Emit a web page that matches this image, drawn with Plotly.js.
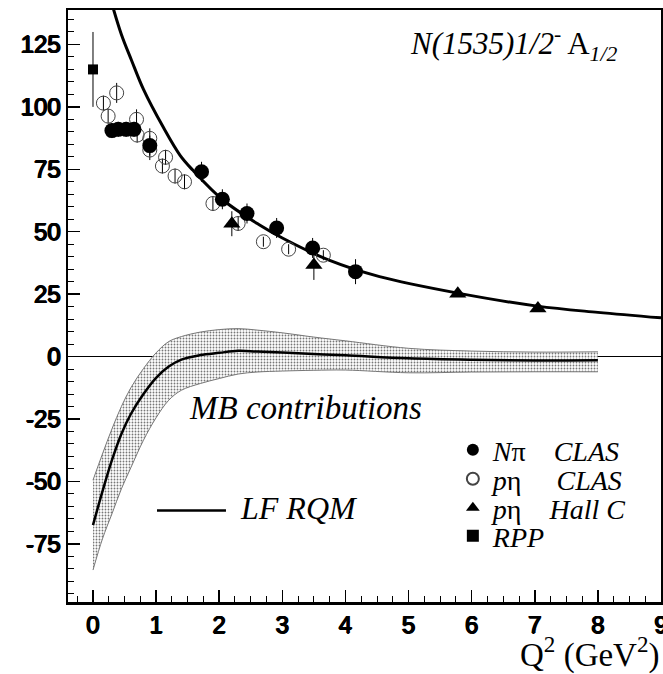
<!DOCTYPE html>
<html>
<head>
<meta charset="utf-8">
<script src="https://cdn.plot.ly/plotly-3.0.1.min.js"></script>
<style>html,body{margin:0;padding:0;background:#fff;}#chart{width:663px;height:674px;}</style>
</head>
<body>
<div id="chart"></div>
<script>
// N pi CLAS (filled circles)
const nPiQ2 = [0.3, 0.4, 0.525, 0.65, 0.9, 1.72, 2.05, 2.44, 2.91, 3.48, 4.16];
const nPiA = [90.5, 91, 91, 91, 84.5, 74, 63, 57.3, 51.5, 43.5, 34];
const nPiErr = [3, 3, 3, 3, 4, 4, 4, 4, 4, 4, 5];
// p eta CLAS (open circles)
const etaQ2 = [0.165, 0.24, 0.375, 0.69, 0.7, 0.9, 0.9, 1.1, 1.15, 1.3, 1.45, 1.9, 2.3, 2.7, 3.1, 3.65];
const etaA = [101.5, 96.3, 105.6, 95, 88.7, 87.4, 82.7, 76.3, 79.8, 72.3, 70, 61.3, 53.3, 46, 43, 40.6];
const etaErr = [3, 3, 4, 4, 3, 4, 4, 3, 3, 3, 3, 3, 3, 2, 2, 2];
// p eta Hall C (triangles)
const hallQ2 = [2.2, 3.5, 5.78, 7.05];
const hallA = [53.2, 36.7, 25.2, 19.2];
const hallErr = [5, 6, 1, 1];
// RPP (square)
const rppQ2 = [0];
const rppA = [115];
const rppErr = [15];
// LF RQM curve
const lfQ2 = [0.28, 0.45, 0.61, 0.8, 1.11, 1.38, 1.58, 2.06, 2.64, 3.0, 3.75, 4.54, 5.78, 7.04, 8.0, 9.0];
const lfA = [143, 129, 118.7, 107, 92, 80.6, 74.7, 62.7, 52.7, 47.5, 38.5, 32, 25.4, 20.2, 17.7, 15.5];
// MB contributions band
const mbQ2 = [0, 0.15, 0.3, 0.45, 0.6, 0.8, 1.0, 1.2, 1.4, 1.7, 2.0, 2.3, 2.6, 3.0, 3.5, 4.0, 5.0, 6.0, 7.0, 8.0];
const mbCenter = [-67.5, -54, -41.5, -31, -23, -15, -8.5, -4, -1.2, 0.6, 1.5, 2.3, 2.0, 1.6, 1.0, 0.5, -0.7, -1.3, -1.6, -1.5];
const mbUpper = [-49.5, -39, -29, -20, -12.5, -4.8, 1.5, 6, 8, 9.8, 10.8, 11.2, 10.6, 9.5, 7.8, 6.3, 3.3, 2.2, 1.8, 1.9];
const mbLower = [-85.5, -73, -63, -53, -44.5, -33.5, -24.5, -17.5, -13.5, -10.8, -8.8, -7, -6.2, -5.8, -5.5, -5.4, -6.5, -6.2, -6.1, -6.1];
// tick labels
const xTicks = [0, 1, 2, 3, 4, 5, 6, 7, 8, 9];
const yTicks = [-75, -50, -25, 0, 25, 50, 75, 100, 125];

const serif = 'Liberation Serif, Times New Roman, serif';
const errStyle = (arr) => ({type: 'data', array: arr, visible: true, color: 'black', thickness: 1, width: 0});

const traces = [
  {x: mbQ2, y: mbUpper, mode: 'lines', line: {color: '#777', width: 1, shape: 'spline'}, showlegend: false, hoverinfo: 'skip'},
  {x: mbQ2, y: mbLower, mode: 'lines', line: {color: '#777', width: 1, shape: 'spline'}, fill: 'tonexty',
   fillcolor: 'rgba(255,255,255,0)',
   fillpattern: {shape: '.', fgcolor: '#777', bgcolor: 'white', size: 3, solidity: 0.3},
   showlegend: false, hoverinfo: 'skip'},
  {x: mbQ2, y: mbCenter, mode: 'lines', line: {color: 'black', width: 2.5, shape: 'spline'}, showlegend: false},
  {x: lfQ2, y: lfA, mode: 'lines', line: {color: 'black', width: 3, shape: 'spline'}, showlegend: false},
  {x: etaQ2, y: etaA, mode: 'markers', name: '<i>p</i>η     <i>CLAS</i>', legend: 'legend2',
   marker: {symbol: 'circle-open', size: 14, color: '#444', line: {width: 1, color: '#444'}},
   error_y: errStyle(etaErr)},
  {x: nPiQ2, y: nPiA, mode: 'markers', name: '<i>N</i>π    <i>CLAS</i>', legend: 'legend',
   marker: {symbol: 'circle', size: 15, color: 'black'}, error_y: errStyle(nPiErr)},
  {x: hallQ2, y: hallA, mode: 'markers', name: '<i>p</i>η    <i>Hall C</i>', legend: 'legend3',
   marker: {symbol: 'triangle-up', size: 15, color: 'black'}, error_y: errStyle(hallErr)},
  {x: rppQ2, y: rppA, mode: 'markers', name: '<i>RPP</i>', legend: 'legend4',
   marker: {symbol: 'square', size: 10, color: 'black'}, error_y: errStyle(rppErr)}
];

const boldShadow = '0.8px 0 0 #000, -0.8px 0 0 #000, 0 0.6px 0 #000, 0 -0.6px 0 #000';
const tickFont = {family: 'Liberation Sans, Arial, sans-serif', size: 24, color: 'black', shadow: boldShadow};
const legFont = {family: serif, size: 28, color: 'black'};
const mkLegend = (y) => ({x: 0.649, y: y, xanchor: 'left', yanchor: 'top', bgcolor: 'rgba(0,0,0,0)',
  font: legFont, itemsizing: 'constant'});

const layout = {
  width: 663, height: 674,
  margin: {l: 68, r: 2, t: 10, b: 72},
  paper_bgcolor: 'white', plot_bgcolor: 'white',
  showlegend: true,
  legend: mkLegend(0.2990),
  legend2: mkLegend(0.2500),
  legend3: mkLegend(0.2010),
  legend4: mkLegend(0.1537),
  xaxis: {range: [-0.396, 9.0], tickvals: xTicks, ticktext: xTicks.map(String),
          showline: true, mirror: true, linecolor: 'black', linewidth: 2.5,
          ticks: 'inside', ticklen: 12, tickwidth: 1.5, tickcolor: 'black',
          minor: {dtick: 0.25, tick0: 0, ticks: 'inside', ticklen: 6, tickwidth: 1, tickcolor: 'black', showgrid: false},
          showgrid: false, zeroline: false, tickfont: tickFont, ticklabeloverflow: 'allow', ticklabelstandoff: 0},
  yaxis: {range: [-98.3, 138.8], tickvals: yTicks, ticktext: yTicks.map(String),
          showline: true, mirror: true, linecolor: 'black', linewidth: 2.5,
          ticks: 'inside', ticklen: 12, tickwidth: 1.5, tickcolor: 'black',
          minor: {dtick: 5, tick0: 0, ticks: 'inside', ticklen: 6, tickwidth: 1, tickcolor: 'black', showgrid: false},
          showgrid: false, zeroline: true, zerolinecolor: 'black', zerolinewidth: 1,
          tickfont: tickFont, ticklabelstandoff: 0},
  annotations: [
    {xref: 'paper', yref: 'paper', x: 0.5734, y: 0.9426, xanchor: 'left', yanchor: 'middle', showarrow: false,
     text: '<i>N(1535)1/2</i><sup>-</sup> A<sub><i>1/2</i></sub>', font: {family: serif, size: 31, color: 'black'}},
    {xref: 'paper', yref: 'paper', x: 0.2007, y: 0.3277, xanchor: 'left', yanchor: 'middle', showarrow: false,
     text: '<i>MB contributions</i>', font: {family: serif, size: 33, color: 'black'}},
    {xref: 'paper', yref: 'paper', x: 0.2867, y: 0.1588, xanchor: 'left', yanchor: 'middle', showarrow: false,
     text: '<i>LF RQM</i>', font: {family: serif, size: 32, color: 'black'}},
    {xref: 'paper', yref: 'paper', x: 1.0017, y: -0.0845, xanchor: 'right', yanchor: 'middle', showarrow: false,
     text: 'Q<sup>2</sup> (GeV<sup>2</sup>)', font: {family: serif, size: 33, color: 'black'}}
  ],
  shapes: [
    {type: 'line', xref: 'paper', yref: 'paper', x0: 0.1501, x1: 0.2664, y0: 0.1546, y1: 0.1546,
     line: {color: 'black', width: 2.5}}
  ]
};

Plotly.newPlot('chart', traces, layout, {displayModeBar: false, staticPlot: true});
</script>
</body>
</html>
